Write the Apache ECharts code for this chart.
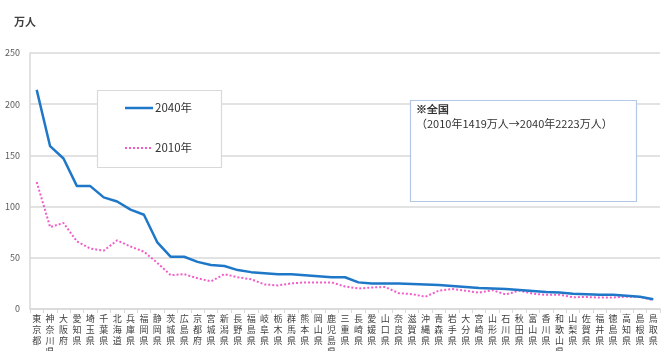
<!DOCTYPE html>
<html>
<head>
<meta charset="utf-8">
<script src="https://cdn.jsdelivr.net/npm/echarts@6/dist/echarts.min.js"></script>
<style>
  html, body { margin: 0; padding: 0; background: #fff; }
  #chart { width: 661px; height: 351px; }
</style>
</head>
<body>
<div id="chart"></div>
<script>
// 都道府県（2040年の多い順）
const prefectures = [
  '東京都','神奈川県','大阪府','愛知県','埼玉県','千葉県','北海道','兵庫県','福岡県','静岡県',
  '茨城県','広島県','京都府','宮城県','新潟県','長野県','福島県','岐阜県','栃木県','群馬県',
  '熊本県','岡山県','鹿児島県','三重県','長崎県','愛媛県','山口県','奈良県','滋賀県','沖縄県',
  '青森県','岩手県','大分県','宮崎県','山形県','石川県','秋田県','富山県','香川県','和歌山県',
  '山梨県','佐賀県','福井県','徳島県','高知県','島根県','鳥取県'
];

// 2040年（万人）
const values2040 = [
  214, 159, 147, 120, 120, 109, 105, 97, 92, 65,
  51, 51, 46, 43, 42, 38, 36, 35, 34, 34,
  33, 32, 31, 31, 26, 25, 25, 25, 24.5, 24,
  23.5, 22.5, 21.5, 20.5, 20, 19.5, 18.5, 17.5, 16.5, 16,
  15, 14.5, 14, 13.8, 13, 12, 9.5
];

// 2010年（万人）
const values2010 = [
  124, 80, 84, 66, 59, 57, 67, 61, 56, 45,
  33, 34, 30, 27, 34, 31, 29, 24, 23, 25,
  26, 26, 26, 22, 20, 21, 21.5, 15.5, 14.5, 12,
  18, 19.5, 17.8, 16, 18.4, 14.2, 18, 15, 13.8, 13.9,
  11.5, 11.7, 11.2, 11.3, 12, 11.8, 8.7
];

const yTicks = [0, 50, 100, 150, 200, 250];

const seriesNames = ['2040年', '2010年'];
const BLUE = '#1f77c8';
const PINK = '#f25cc9';
const FONT = '"Noto Sans CJK JP", "Noto Sans", sans-serif';

const chart = echarts.init(document.getElementById('chart'), null, { renderer: 'canvas' });

chart.setOption({
  animation: false,
  textStyle: { fontFamily: FONT },
  grid: { left: 30, right: 1, top: 53, bottom: 42, containLabel: false, outerBoundsMode: 'none' },
  xAxis: {
    type: 'category',
    data: prefectures,
    boundaryGap: true,
    axisLine: { lineStyle: { color: '#d9d9d9', width: 1.5 } },
    axisTick: { show: true, length: 4, lineStyle: { color: '#d9d9d9' } },
    axisLabel: {
      interval: 0,
      margin: 4,
      fontSize: 9,
      lineHeight: 11,
      color: '#404040',
      fontFamily: FONT,
      formatter: v => v.split('').join('\n')
    }
  },
  yAxis: {
    type: 'value',
    min: yTicks[0],
    max: yTicks[yTicks.length - 1],
    interval: 50,
    axisLine: { show: true, lineStyle: { color: '#d9d9d9', width: 1.5 } },
    axisTick: { show: false },
    splitLine: { lineStyle: { color: '#d9d9d9', width: 1.5 } },
    axisLabel: { fontSize: 9, color: '#595959', margin: 10, fontFamily: FONT }
  },
  series: [
    {
      name: seriesNames[0],
      type: 'line',
      data: values2040,
      symbol: 'none',
      lineStyle: { color: BLUE, width: 2.5 },
      itemStyle: { color: BLUE },
      z: 3
    },
    {
      name: seriesNames[1],
      type: 'line',
      data: values2010,
      symbol: 'none',
      lineStyle: { color: PINK, width: 2, type: [2, 2] },
      itemStyle: { color: PINK },
      z: 2
    }
  ],
  graphic: [
    {
      type: 'text',
      left: 14, top: 16,
      style: { text: '万人', fontSize: 11, fontWeight: 'bold', fill: '#404040', fontFamily: FONT }
    },
    // 凡例枠
    {
      type: 'rect',
      shape: { x: 97.5, y: 90.5, width: 124, height: 77 },
      style: { fill: '#ffffff', stroke: '#d9d9d9', lineWidth: 1.2 },
      z: 1
    },
    {
      type: 'line',
      shape: { x1: 125, y1: 108, x2: 153, y2: 108 },
      style: { stroke: BLUE, lineWidth: 2.5 },
      z: 2
    },
    {
      type: 'text',
      x: 155, y: 108,
      style: { text: seriesNames[0], fontSize: 11.5, fill: '#333333', fontFamily: FONT, verticalAlign: 'middle' },
      z: 2
    },
    {
      type: 'line',
      shape: { x1: 125, y1: 148, x2: 153, y2: 148 },
      style: { stroke: PINK, lineWidth: 2, lineDash: [2, 2] },
      z: 2
    },
    {
      type: 'text',
      x: 155, y: 148,
      style: { text: seriesNames[1], fontSize: 11.5, fill: '#333333', fontFamily: FONT, verticalAlign: 'middle' },
      z: 2
    },
    // 全国の注記
    {
      type: 'rect',
      shape: { x: 410.5, y: 100.5, width: 226, height: 101 },
      style: { fill: '#ffffff', stroke: '#b4c7e7', lineWidth: 1.2 },
      z: 1
    },
    {
      type: 'text',
      left: 416, top: 103,
      style: {
        text: '{b|※全国}\n（2010年1419万人→2040年2223万人）',
        fontSize: 11, lineHeight: 14, fill: '#333333', fontFamily: FONT,
        rich: { b: { fontSize: 11, fontWeight: 'bold', fill: '#333333', lineHeight: 14 } }
      },
      z: 2
    }
  ]
});
</script>
</body>
</html>
